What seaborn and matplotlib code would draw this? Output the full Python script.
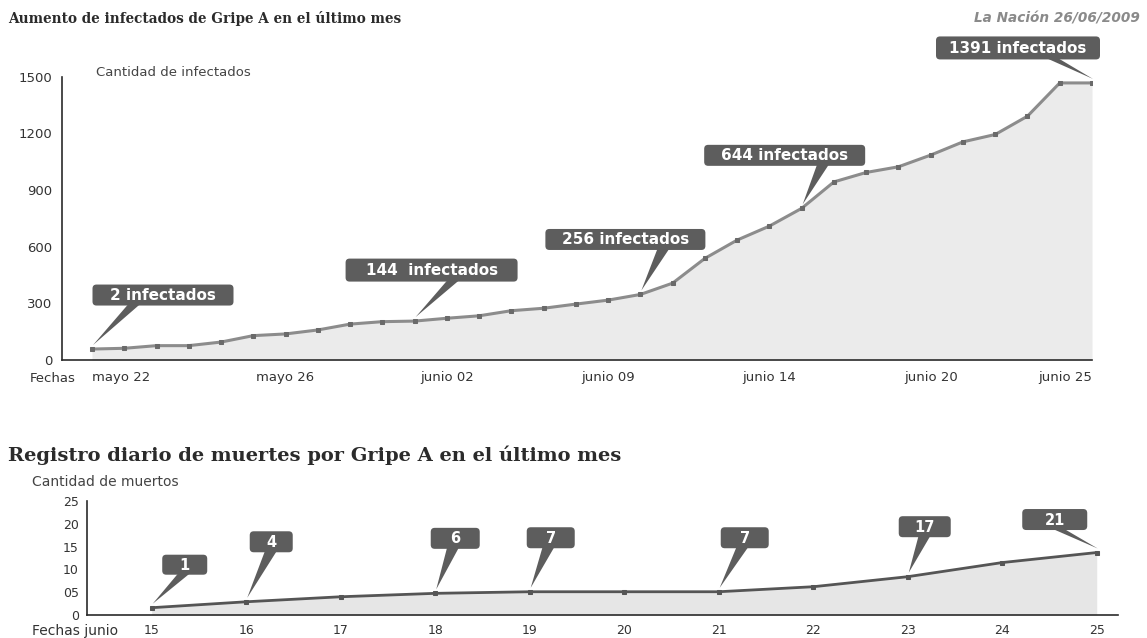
import numpy as np
import matplotlib
matplotlib.use('Agg')
import matplotlib.pyplot as plt
import seaborn as sns
from matplotlib.patches import FancyBboxPatch, Polygon
from matplotlib.transforms import IdentityTransform

# -----------------------------------------------------------------------------
# DATOS
# -----------------------------------------------------------------------------
infectados = [58, 62, 76, 76, 95, 129, 138, 159, 190, 203, 206, 221, 234, 261, 274, 296,
              317, 347, 407, 538, 635, 709, 803, 943, 993, 1023, 1085, 1155, 1194, 1291, 1467, 1467]
fechas_pos = [0, 6, 11, 16, 21, 26, 31]
fechas_lbl = ['mayo 22', 'mayo 26', 'junio 02', 'junio 09', 'junio 14', 'junio 20', 'junio 25']
inf_yticks = [0, 300, 600, 900, 1200, 1500]

dias = [15, 16, 17, 18, 19, 20, 21, 22, 23, 24, 25]
muertes = [1.6, 2.9, 4.0, 4.75, 5.1, 5.1, 5.1, 6.2, 8.4, 11.5, 13.7]
mue_yticks = [0, 5, 10, 15, 20, 25]
mue_ylbl = ['0', '05', '10', '15', '20', '25']

# (índice del punto, texto)
etiquetas_inf = [(0, '2 infectados'), (10, '144  infectados'), (17, '256 infectados'),
                 (22, '644 infectados'), (31, '1391 infectados')]
etiquetas_mue = [(15, '1'), (16, '4'), (18, '6'), (19, '7'), (21, '7'), (23, '17'), (25, '21')]

# desplazamiento de la caja respecto del punto (px), tamaño (px), base del pico
layout_inf = [(71, 54, 141, 21, 0.30), (17, 51, 172, 23, 0.63), (-15, 55, 160, 21, 0.74),
              (-17, 53, 161, 21, 0.74), (-74, 35, 164, 23, 0.70)]
layout_mue = [(33, 43, 45, 20, 0.5), (25, 60, 43, 21, 0.5), (20, 55, 49, 21, 0.46),
              (21, 54, 48, 21, 0.46), (26, 54, 48, 21, 0.46), (17, 50, 52, 21, 0.5),
              (-42, 33, 65, 21, 0.53)]

# -----------------------------------------------------------------------------
# ESTILO
# -----------------------------------------------------------------------------
sns.set_style('white')
plt.rcParams['font.family'] = ['DejaVu Sans']
plt.rcParams['axes.edgecolor'] = '#2b2b2b'
plt.rcParams['axes.linewidth'] = 1.2

W, H = 1147, 638
BOX = '#5d5d5d'
TXT = '#333333'

fig = plt.figure(figsize=(W / 100, H / 100), dpi=100)
fig.patch.set_facecolor('white')


def px_text(x, y, s, **kw):
    # texto posicionado en píxeles (y desde arriba)
    fig.text(x, H - y, s, transform=IdentityTransform(), **kw)


def callout(ax, x, y, s, lay, fs):
    dx, dy, w, h, base = lay
    px, py = ax.transData.transform((x, y))
    cx, cy = px + dx, py + dy
    bx = cx - w / 2 + base * w
    tri = Polygon([(bx - 6, cy - h / 2 + 2), (bx + 6, cy - h / 2 + 2), (px + 1, py + 4)],
                  closed=True, transform=IdentityTransform(), fc=BOX, ec='none', zorder=5)
    box = FancyBboxPatch((cx - w / 2, cy - h / 2), w, h,
                         boxstyle='round,pad=0,rounding_size=4',
                         transform=IdentityTransform(), fc=BOX, ec='none', zorder=5)
    fig.add_artist(tri)
    fig.add_artist(box)
    fig.text(cx, cy - 0.5, s, transform=IdentityTransform(), ha='center', va='center',
             color='white', fontsize=fs, fontweight='bold', zorder=6)


# -----------------------------------------------------------------------------
# 1. INFECTADOS
# -----------------------------------------------------------------------------
ax1 = fig.add_axes([62 / W, 1 - 360 / H, (1092 - 62) / W, (360 - 76.7) / H])
x_inf = np.arange(len(infectados))
ax1.fill_between(x_inf, infectados, color='#ebebeb', lw=0, zorder=1)
sns.lineplot(x=x_inf, y=infectados, ax=ax1, color='#8c8c8c', linewidth=2.2,
             marker='s', markersize=3.5, markerfacecolor='#6a6a6a', markeredgecolor='#6a6a6a',
             zorder=3)
ax1.set_xlim(-0.93, 31)
ax1.set_ylim(0, 1500)
ax1.set_xticks(fechas_pos)
ax1.set_xticklabels(fechas_lbl)
ax1.set_xticks(x_inf, minor=True)
ax1.set_yticks(inf_yticks)
ax1.tick_params(axis='y', direction='in', length=18, width=1.1, color='#2b2b2b',
                pad=7, labelsize=9.5, labelcolor=TXT)
ax1.tick_params(axis='x', which='major', direction='inout', length=10, width=1.3,
                color='#2b2b2b', pad=3, labelsize=9.5, labelcolor=TXT)
ax1.tick_params(axis='x', which='minor', direction='in', length=4.5, width=1.1,
                color='#2b2b2b')
xl = ax1.get_xticklabels()
xl[0].set_ha('left')
xl[-1].set_ha('right')
ax1.set_xlabel('')
ax1.set_ylabel('')
sns.despine(ax=ax1)

for (i, s), lay in zip(etiquetas_inf, layout_inf):
    callout(ax1, x_inf[i], infectados[i], s, lay, 11)

# -----------------------------------------------------------------------------
# 2. MUERTES
# -----------------------------------------------------------------------------
ax2 = fig.add_axes([87 / W, 1 - 615 / H, (1118 - 87) / W, 114 / H])
ax2.fill_between(dias, muertes, color='#e6e6e6', lw=0, zorder=1)
sns.lineplot(x=dias, y=muertes, ax=ax2, color='#555555', linewidth=2.0,
             marker='s', markersize=3.5, markerfacecolor='#555555', markeredgecolor='#555555',
             zorder=3)
ax2.set_xlim(14.315, 25.225)
ax2.set_ylim(0, 25)
ax2.set_xticks(dias)
ax2.set_yticks(mue_yticks)
ax2.set_yticklabels(mue_ylbl)
ax2.tick_params(axis='y', direction='in', length=19, width=1.1, color='#2b2b2b',
                pad=6, labelsize=9, labelcolor=TXT)
ax2.tick_params(axis='x', direction='in', length=6, width=1.3, color='#2b2b2b',
                pad=6.5, labelsize=9, labelcolor=TXT)
ax2.set_xlabel('')
ax2.set_ylabel('')
sns.despine(ax=ax2)

dia_idx = {d: k for k, d in enumerate(dias)}
for (d, s), lay in zip(etiquetas_mue, layout_mue):
    callout(ax2, d, muertes[dia_idx[d]], s, lay, 10.5)

# -----------------------------------------------------------------------------
# 3. TEXTOS
# -----------------------------------------------------------------------------
px_text(8, 18, 'Aumento de infectados de Gripe A en el último mes', family='DejaVu Serif',
        fontweight='bold', fontsize=9.8, color='#2b2b2b', va='center', ha='left')
px_text(1140, 18, 'La Nación 26/06/2009', fontweight='bold', style='italic',
        fontsize=9.8, color='#8a8a8a', va='center', ha='right')
px_text(96, 73, 'Cantidad de infectados', fontsize=9.5, color='#444444', va='center')
px_text(30, 378, 'Fechas', fontsize=9.5, color=TXT, va='center')

px_text(8, 455, 'Registro diario de muertes por Gripe A en el último mes', family='DejaVu Serif',
        fontweight='bold', fontsize=14, color='#2b2b2b', va='center', ha='left')
px_text(32, 482, 'Cantidad de muertos', fontsize=10, color='#444444', va='center')
px_text(32, 631, 'Fechas junio', fontsize=10, color=TXT, va='center')

plt.savefig('out.png', dpi=100)
